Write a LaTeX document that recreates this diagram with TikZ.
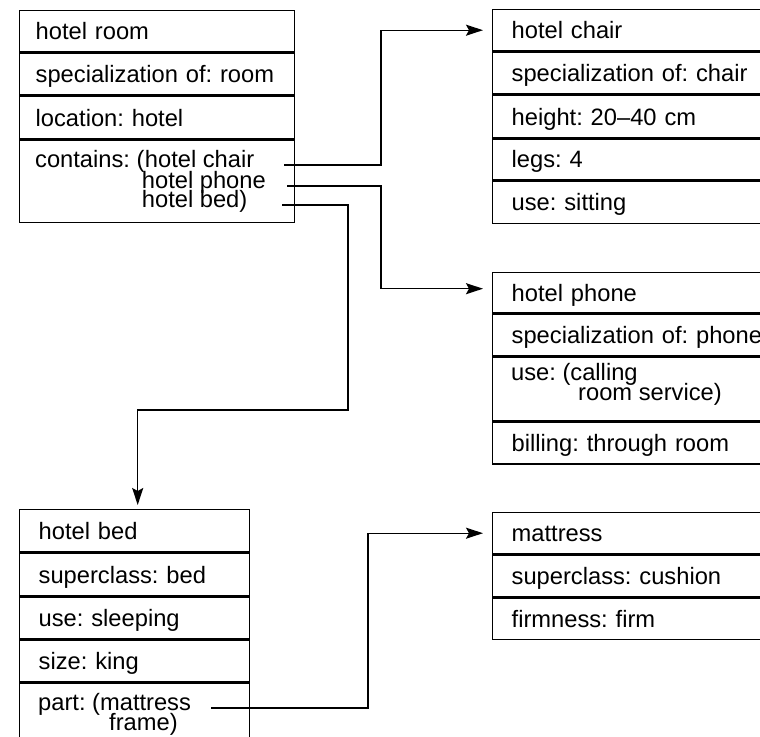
\documentclass[tikz,border=0pt]{standalone}
\usepackage{fontspec}
\setmainfont{Liberation Sans}
\usetikzlibrary{positioning,arrows.meta,calc}

\newcommand{\framefont}{\fontsize{23.7pt}{20.5pt}\selectfont\frenchspacing}

\tikzset{
  slot/.style={draw, line width=1.4pt, anchor=north west, minimum height=#1,
    inner ysep=0pt, text height=17pt, text depth=0pt, align=left, font=\framefont},
  roomslot/.style={slot=#1, text width=243pt, inner xsep=16pt},
  bedslot/.style={slot=#1, text width=192pt, inner xsep=19pt},
  sideslot/.style={slot=#1, text width=264pt, inner xsep=19pt},
  entry/.style={anchor=base west, inner sep=0pt, font=\framefont},
  link/.style={line width=1.4pt, -{Stealth[length=17pt, width=11pt, inset=3pt]}},
}

\begin{document}
\begin{tikzpicture}[x=1pt, y=-1pt]
\useasboundingbox (0,0) rectangle (760,736);

% === hotel room frame ===
\node[roomslot=41.5pt] (room1) at (19,9.5) {hotel room};
\node[roomslot=42pt, below=0pt of room1] (room2) {specialization of: room};
\node[roomslot=42.3pt, below=0pt of room2] (room3) {location: hotel};
\node[roomslot=82pt, below=0pt of room3] (room4) {};
\node[entry] (cont) at ([xshift=16pt, yshift=-28pt]room4.north west) {contains: (};
\node[entry] (chairref) at (cont.base east) {hotel chair};
\node[entry] (phoneref) at ([xshift=-3pt, yshift=-21pt]chairref.base west) {hotel phone};
\node[entry] (bedref) at ([yshift=-19pt]phoneref.base west) {hotel bed)};

% === hotel chair frame ===
\node[sideslot=41pt] (chair1) at (492,9) {hotel chair};
\node[sideslot=42pt, below=0pt of chair1] (chair2) {specialization of: chair};
\node[sideslot=42pt, below=0pt of chair2] (chair3) {height: 20--40 cm};
\node[sideslot=41pt, below=0pt of chair3] (chair4) {legs: 4};
\node[sideslot=42pt, below=0pt of chair4] (chair5) {use: sitting};

% === hotel phone frame ===
\node[sideslot=40pt] (phone1) at (492,272) {hotel phone};
\node[sideslot=42pt, below=0pt of phone1] (phone2) {specialization of: phone};
\node[sideslot=63pt, below=0pt of phone2] (phone3) {};
\node[sideslot=42pt, below=0pt of phone3] (phone4) {billing: through room};
\node[entry] (usecall) at ([xshift=19pt, yshift=-24pt]phone3.north west) {use: (calling};
\node[entry] (usesvc) at ([xshift=67pt, yshift=-20pt]usecall.base west) {room service)};

% === hotel bed frame ===
\node[bedslot=42pt] (bed1) at (19,509) {hotel bed};
\node[bedslot=43pt, below=0pt of bed1] (bed2) {superclass: bed};
\node[bedslot=41pt, below=0pt of bed2] (bed3) {use: sleeping};
\node[bedslot=42pt, below=0pt of bed3] (bed4) {size: king};
\node[bedslot=80pt, below=0pt of bed4] (bed5) {};
\node[entry] (partof) at ([xshift=19pt, yshift=-28pt]bed5.north west) {part: (mattress};
\node[entry] (frameref) at ([xshift=71pt, yshift=-20pt]partof.base west) {frame)};

% === mattress frame ===
\node[sideslot=41pt] (mat1) at (492,512) {mattress};
\node[sideslot=42pt, below=0pt of mat1] (mat2) {superclass: cushion};
\node[sideslot=41pt, below=0pt of mat2] (mat3) {firmness: firm};
\draw[line width=2.6pt] (mat3.north west) -- (mat3.north east);

% === slot fillers ===
\coordinate (busA) at (381,0);
\coordinate (busB) at (348,410);
\coordinate (busC) at (368,0);
\draw[link, shorten >=9pt] ($(room4.east |- chairref.mid)+(-11,0)$) -| (busA |- chair1.west) -- (chair1.west);
\draw[link, shorten >=9pt] ($(room4.east |- phoneref.mid)+(-8,0)$) -| ($(busA |- phone1.west)+(0,-4)$) -- ($(phone1.west)+(0,-4)$);
\draw[link, shorten >=4pt] ($(room4.east |- bedref.mid)+(-13,0)$) -| (busB) -| ($(bed1.north)+(3,0)$);
\draw[link, shorten >=9pt] ($(bed5.east |- partof.mid)+(-39,0)$) -| (busC |- mat1.west) -- (mat1.west);

\end{tikzpicture}
\end{document}
